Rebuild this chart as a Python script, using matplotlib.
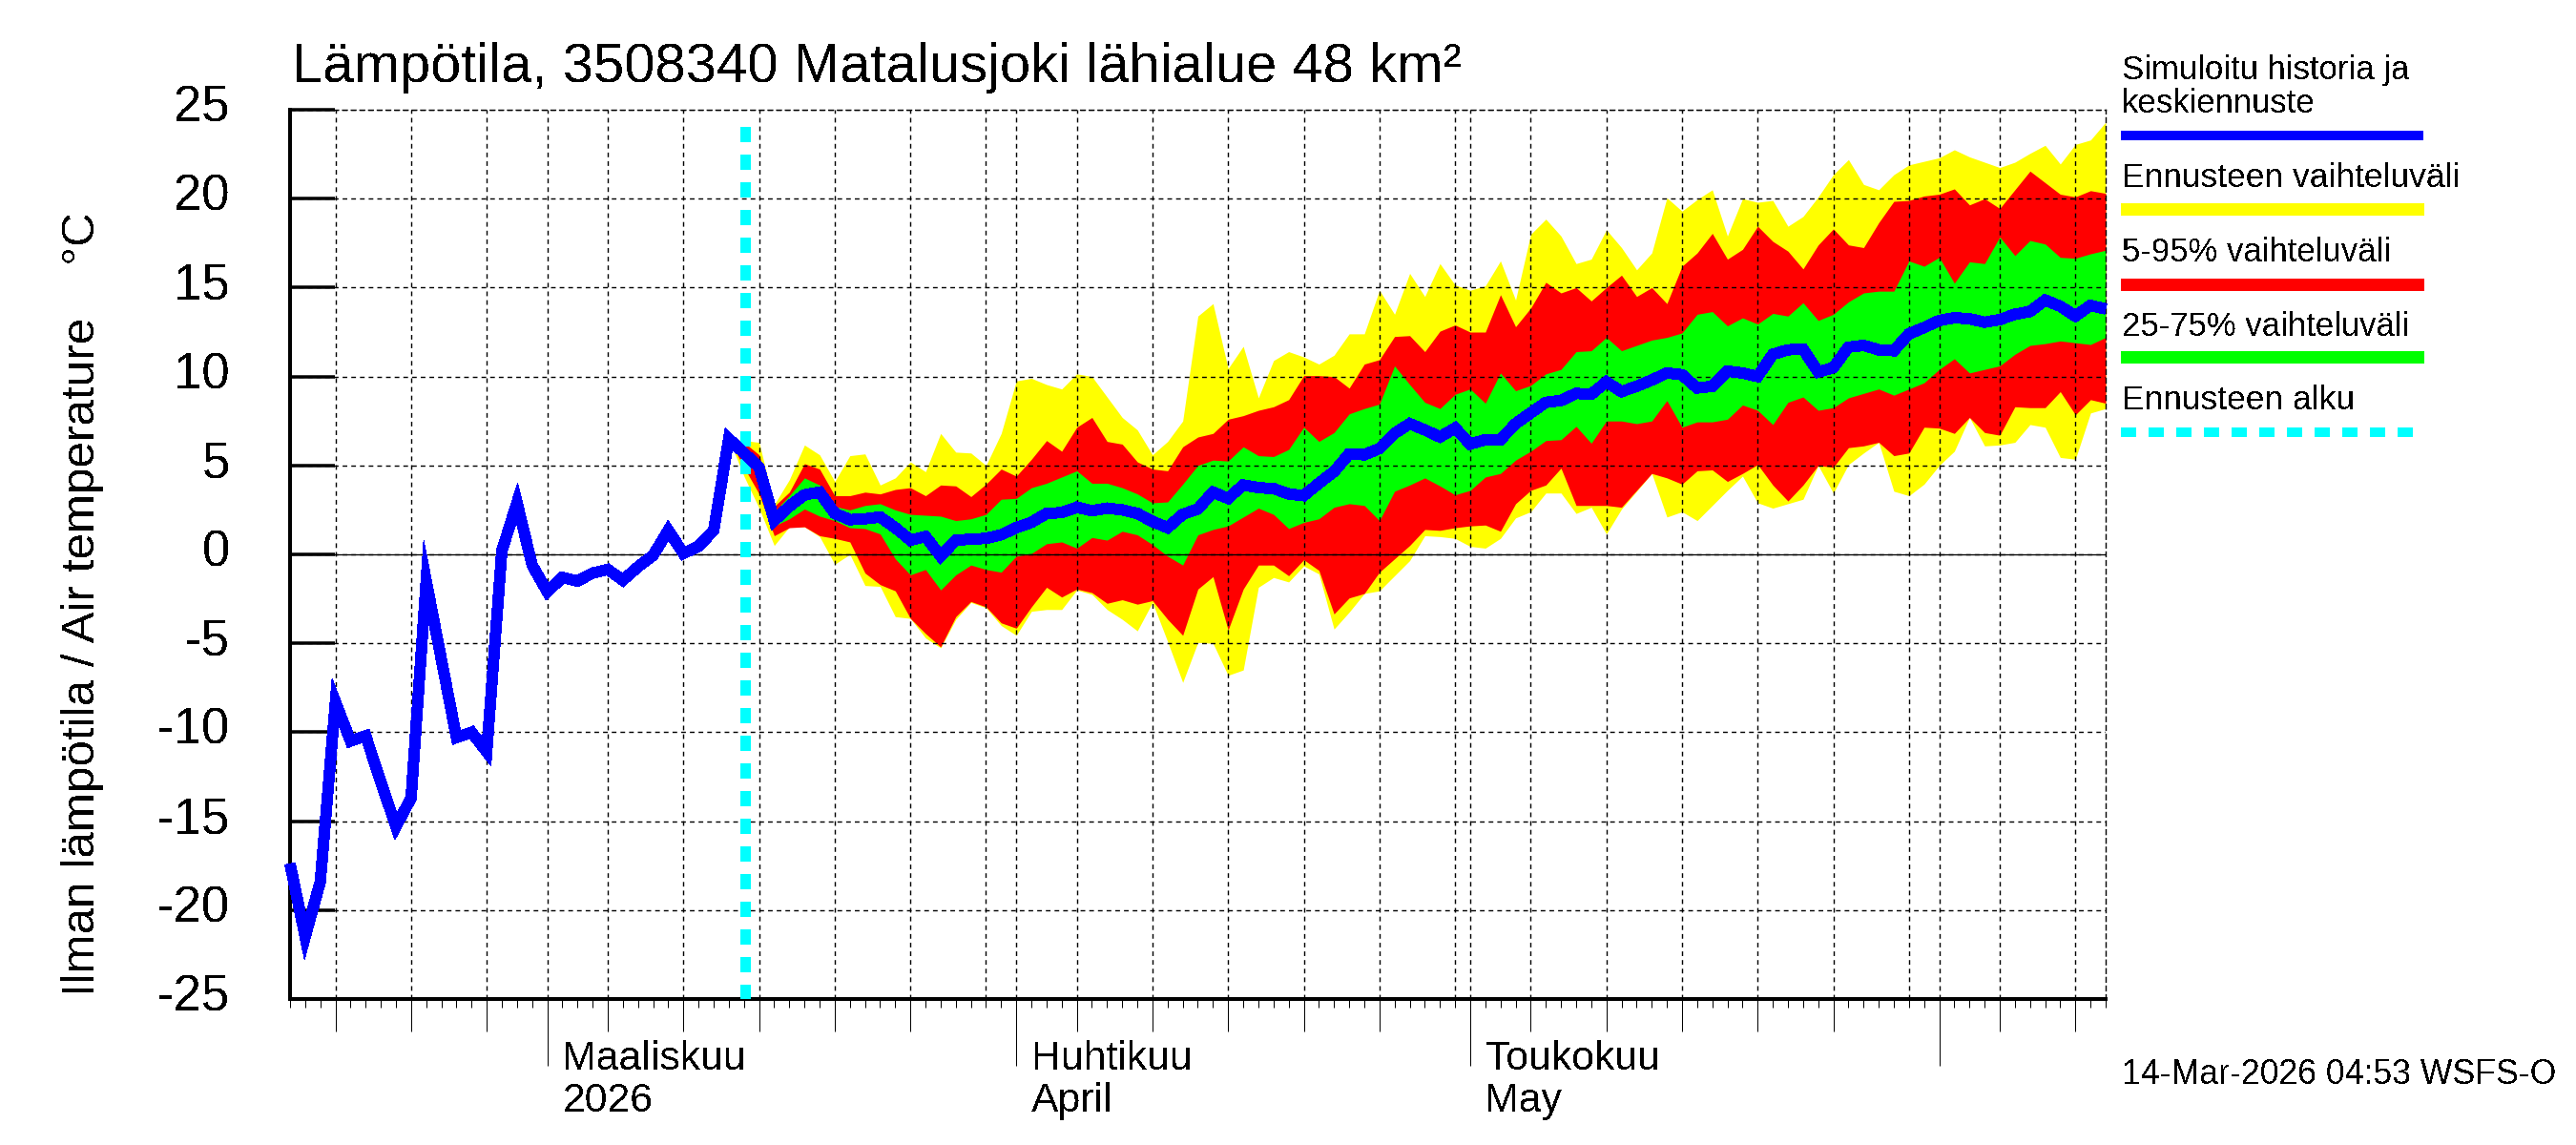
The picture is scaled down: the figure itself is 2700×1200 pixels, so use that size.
import pandas as pd
import matplotlib
matplotlib.use("Agg")
import matplotlib.pyplot as plt
import matplotlib.dates as mdates
from matplotlib.lines import Line2D
from matplotlib.transforms import ScaledTranslation

plt.rcParams["font.family"] = ["Liberation Sans", "DejaVu Sans"]
plt.rcParams["axes.unicode_minus"] = False
plt.rcParams["text.antialiased"] = False

W, H = 2700, 1200

title = "Lämpötila, 3508340 Matalusjoki lähialue 48 km²"
ylabel = "Ilman lämpötila / Air temperature    °C"
stamp = "14-Mar-2026 04:53 WSFS-O"
month_labels = [("2026-03-01", "Maaliskuu", "2026"), ("2026-04-01", "Huhtikuu", "April"), ("2026-05-01", "Toukokuu", "May")]
legend_labels = ["Ennusteen vaihteluväli", "5-95% vaihteluväli", "25-75% vaihteluväli", "Ennusteen alku"]
yticks = [-25, -20, -15, -10, -5, 0, 5, 10, 15, 20, 25]
forecast_start = "2026-03-14"

# daily mean, 12 Feb - 12 Jun
mean = [-17.4, -21.5, -18.4, -8.3, -10.5, -10.2, -12.8, -15.3, -13.7, -1.5,
        -5.9, -10.3, -10, -11.1, 0.2, 2.9, -0.6, -2.1, -1.3, -1.5,
        -1.05, -0.85, -1.45, -0.7, -0.05, 1.35, 0.05, 0.45, 1.35,
        6.5, 5.7, 4.9, 1.9, 2.7, 3.35, 3.5, 2.3, 1.95, 2,
        2.1, 1.5, 0.8, 1, -0.1, 0.8, 0.85, 0.9, 1.1, 1.5,
        1.8, 2.3, 2.35, 2.65, 2.45, 2.6, 2.5, 2.3, 1.85, 1.5,
        2.25, 2.55, 3.5, 3.15, 3.9, 3.75, 3.7, 3.4, 3.3, 4,
        4.65, 5.65, 5.6, 5.95, 6.8, 7.35, 7, 6.6, 7.1, 6.2,
        6.45, 6.45, 7.35, 7.95, 8.55, 8.65, 9.05, 9, 9.7, 9.15,
        9.45, 9.8, 10.2, 10.1, 9.35, 9.45, 10.3, 10.2, 10, 11.25,
        11.5, 11.55, 10.25, 10.5, 11.65, 11.75, 11.5, 11.45, 12.4, 12.75,
        13.15, 13.3, 13.25, 13.05, 13.2, 13.5, 13.65, 14.3, 13.95, 13.4,
        14, 13.8]

# forecast bands start from the last history day
yellow_top = [6.5, 6.4, 6.3, 2.8, 4.2, 6.15, 5.6, 4.1, 5.55, 5.65,
              3.9, 4.3, 5.2, 4.65, 6.8, 5.75, 5.7, 5.0, 6.8, 9.75,
              9.9, 9.55, 9.3, 10.15, 10.0, 8.85, 7.7, 7.0, 5.6, 6.35,
              7.5, 13.4, 14.1, 10.45, 11.7, 8.8, 10.9, 11.4, 11.1, 10.7,
              11.2, 12.4, 12.4, 14.85, 13.5, 15.8, 14.5, 16.35, 15.15, 14.85,
              15.1, 16.5, 14.3, 18, 18.85, 17.9, 16.35, 16.6, 18.25, 17.25,
              16, 16.95, 20.05, 19.3, 19.95, 20.5, 17.9, 20, 19.8, 19.9,
              18.45, 19, 20.1, 21.35, 22.2, 20.8, 20.5, 21.35, 21.9, 22.1,
              22.3, 22.75, 22.35, 22.05, 21.75, 22.05, 22.55, 23, 21.95, 23.05,
              23.3, 24.3]
yellow_bot = [6.5, 4.4, 2.6, 0.5, 1.55, 1.55, 1, -0.55, 0, -1.75,
              -1.8, -3.5, -3.6, -4.7, -5.25, -3.65, -2.7, -3, -4, -4.55,
              -3.2, -3.1, -3.1, -2, -2.25, -3.1, -3.65, -4.3, -2.7, -4.9,
              -7.2, -4.95, -5, -6.8, -6.5, -1.85, -1.3, -1.55, -0.65, -1.1,
              -4.2, -3.25, -2.2, -2.05, -1.2, -0.35, 1.05, 1, 0.9, 0.45,
              0.35, 0.9, 2.05, 2.4, 3.45, 3.45, 2.3, 2.65, 1.15, 2.55,
              3.55, 4.55, 2.1, 2.4, 1.9, 2.75, 3.6, 4.4, 2.9, 2.6,
              2.85, 3.1, 5, 3.45, 5.05, 5.7, 6.3, 3.55, 3.3, 3.95,
              5, 5.8, 7.7, 6.1, 6.15, 6.3, 7.3, 7.15, 5.45, 5.35,
              7.95, 8.2]
red_top = [6.5, 6.3, 5.6, 2.7, 3.5, 5.1, 4.8, 3.3, 3.3, 3.5,
           3.4, 3.65, 3.75, 3.3, 3.9, 3.85, 3.25, 3.95, 4.8, 4.4,
           5.35, 6.4, 5.8, 7.15, 7.7, 6.35, 6.2, 5.2, 4.8, 4.7,
           6.05, 6.6, 6.8, 7.6, 7.8, 8.1, 8.3, 8.7, 10.05, 10.05,
           10, 9.35, 10.7, 10.95, 12.25, 12.3, 11.4, 12.55, 12.9, 12.5,
           12.5, 14.6, 12.8, 13.85, 15.3, 14.7, 15, 14.25, 15, 15.7,
           14.5, 15, 14.1, 16.2, 16.95, 18.05, 16.6, 17.15, 18.45, 17.6,
           17.05, 16.05, 17.4, 18.3, 17.4, 17.25, 18.65, 19.85, 19.9, 20.15,
           20.25, 20.55, 19.65, 20, 19.45, 20.5, 21.55, 20.9, 20.25, 20.1,
           20.45, 20.3]
red_bot = [6.5, 4.9, 3.4, 1.05, 1.5, 1.55, 1.05, 0.9, 0.7, -1.05,
           -1.7, -2.05, -3.6, -4.45, -5.2, -3.5, -2.65, -2.95, -3.85, -4.15,
           -2.95, -1.85, -2.4, -1.95, -2.15, -2.75, -2.55, -2.8, -2.6, -3.65,
           -4.55, -1.95, -1.25, -4.25, -1.95, -0.6, -0.6, -1.2, -0.3, -0.9,
           -3.35, -2.45, -2.2, -1, -0.25, 0.5, 1.4, 1.35, 1.5, 1.6,
           1.65, 1.3, 2.85, 3.6, 3.9, 4.85, 2.75, 2.75, 2.75, 2.65,
           3.6, 4.55, 4.3, 3.95, 4.7, 4.75, 4.1, 4.55, 5.05, 3.9,
           3, 3.9, 5, 4.9, 6, 6.1, 6.3, 5.55, 5.7, 7.15,
           7.1, 6.8, 7.7, 6.85, 6.7, 8.3, 8.25, 8.25, 9.15, 7.85,
           8.7, 8.5]
green_top = [6.5, 6.05, 5.2, 2.4, 3.3, 4.3, 3.9, 2.7, 2.5, 2.75,
             2.85, 2.5, 2.25, 2.2, 2.15, 1.9, 2, 2.25, 3.1, 3.15,
             3.75, 4, 4.35, 4.7, 4, 4, 3.75, 3.4, 2.9, 2.95,
             3.95, 5, 5.3, 5.25, 6.05, 5.55, 5.5, 5.9, 7.15, 6.35,
             6.85, 7.9, 8.2, 8.45, 10.6, 9.55, 8.55, 8.2, 9, 9.3,
             8.5, 10.2, 9.2, 9.5, 10.15, 10.4, 11.4, 11.45, 12.2, 11.45,
             11.75, 12.05, 12.2, 12.45, 13.5, 13.65, 12.85, 13.3, 12.95, 13.55,
             13.4, 14.15, 13.15, 13.5, 14.2, 14.7, 14.8, 14.8, 16.5, 16.2,
             16.7, 15.25, 16.45, 16.35, 17.85, 16.8, 17.65, 17.45, 16.7, 16.65,
             16.9, 17.1]
green_bot = [6.5, 5.3, 4.5, 1.6, 2, 2.55, 2.15, 1.9, 1.5, 1.45,
             1.15, -0.25, -1.15, -0.85, -2, -1.15, -0.6, -0.85, -1, -0.1,
             0.05, 0.6, 0.7, 0.35, 0.95, 0.8, 1.3, 1.1, 0.55, -0.1,
             -0.6, 1.1, 1.4, 1.6, 2.1, 2.6, 2.25, 1.45, 1.8, 2,
             2.65, 2.85, 2.75, 1.9, 3.55, 3.9, 4.3, 3.85, 3.35, 3.6,
             4.35, 4.55, 5.3, 5.8, 6.4, 6.45, 7.2, 6.25, 7.5, 7.5,
             7.35, 7.5, 8.65, 7.15, 7.45, 7.45, 7.6, 8.4, 8.1, 7.3,
             8.55, 8.85, 8.1, 8.25, 8.8, 9.05, 9.3, 8.95, 9.3, 9.65,
             10.4, 11, 10.2, 10.4, 10.6, 11.25, 11.75, 11.85, 12, 11.9,
             11.8, 12.2]

dates = pd.date_range("2026-02-12", periods=len(mean))
fc_dates = dates[len(mean) - len(yellow_top):]


def px(n):
    # pixels to points
    return n * 72 / 100


def fig_text(x, y, s, size):
    fig.text(x / W, 1 - y / H, s, fontsize=size, va="baseline", ha="left")


fig = plt.figure(figsize=(W / 100, H / 100), dpi=100)
ax = fig.add_axes([304 / W, 1 - 1047 / H, 1903 / W, 932 / H])

ax.fill_between(fc_dates, yellow_bot, yellow_top, color="#ffff00", lw=0, antialiased=False, zorder=1)
ax.fill_between(fc_dates, red_bot, red_top, color="#ff0000", lw=0, antialiased=False, zorder=1.1)
ax.fill_between(fc_dates, green_bot, green_top, color="#00ff00", lw=0, antialiased=False, zorder=1.2)

ax.axhline(0, color="black", lw=px(1.3), zorder=1.6)
ax.plot([pd.Timestamp(forecast_start) + pd.Timedelta(hours=2)] * 2, [-25, 24.5], color="#00ffff", lw=px(10.5),
        ls=(0, (1.43, 1.24)), dash_capstyle="butt", antialiased=False, zorder=3)
ax.plot(dates, mean, color="#0000ff", lw=px(11), solid_joinstyle="miter", solid_capstyle="butt",
        antialiased=False, clip_on=False, zorder=4)

ax.set_xlim(dates[0], dates[-1])
ax.set_ylim(-25, 25)

# x ticks: every day short, 5/10/.. medium, month start long, 30th only has grid
major = [d for d in dates if d.day in (1, 5, 10, 15, 20, 25, 30)]
ax.set_xticks(major)
ax.set_xticklabels([])
ax.xaxis.set_minor_locator(mdates.DayLocator())
ax.tick_params(axis="x", which="minor", direction="out", length=px(9), width=px(1))
ax.tick_params(axis="x", which="major", direction="out", width=px(1))
for d, tick in zip(major, ax.xaxis.get_major_ticks()):
    tick.tick1line.set_markersize(px(70) if d.day == 1 else px(9) if d.day == 30 else px(34))

ax.set_yticks(yticks)
ax.set_yticklabels([str(v) for v in yticks], fontsize=38)
ax.tick_params(axis="y", direction="in", length=px(47), width=px(3.5), pad=px(63))
# labels sit a little above their ticks in the original
for label in ax.get_yticklabels():
    label.set_transform(label.get_transform() + ScaledTranslation(0, px(7) / 72, fig.dpi_scale_trans))

ax.grid(True, which="major", color="black", lw=px(1.4), ls=(0, (3.5, 3)))

for side in ("top", "right"):
    ax.spines[side].set_linewidth(px(1.4))
    ax.spines[side].set_linestyle((0, (3.5, 3)))
for side in ("left", "bottom"):
    ax.spines[side].set_linewidth(px(4))

for date, first, second in month_labels:
    xnum = mdates.date2num(pd.Timestamp(date))
    for text, off in ((first, -74), (second, -118)):
        ax.annotate(text, xy=(xnum, 0), xycoords=ax.get_xaxis_transform(), xytext=(px(16), px(off)),
                    textcoords="offset points", fontsize=30.8, ha="left", va="baseline")

fig_text(306, 86, title, 41.8)
fig.text(87 / W, 1 - 633 / H, ylabel, fontsize=35.6, rotation=90, ha="center", va="center")
fig_text(2224, 1136, stamp, 25.7)

# legend drawn by hand at the right side
fig_text(2224, 83, "Simuloitu historia ja", 25)
fig_text(2224, 118, "keskiennuste", 25)
fig_text(2224, 196, legend_labels[0], 25.5)
fig_text(2224, 274, legend_labels[1], 25)
fig_text(2224, 352, legend_labels[2], 25)
fig_text(2224, 429, legend_labels[3], 25.5)

swatches = [(142, "#0000ff", 10, "-"), (219.5, "#ffff00", 12.7, "-"), (297.5, "#ff0000", 12.7, "-"),
            (374.5, "#00ff00", 12.7, "-"), (453, "#00ffff", 10, (0, (1.5, 1.31)))]
for y, color, lw, ls in swatches:
    fig.add_artist(Line2D([2223 / W, 2540 / W], [1 - y / H] * 2, color=color, lw=px(lw), ls=ls,
                          solid_capstyle="butt", dash_capstyle="butt", antialiased=False))

fig.savefig("out.png", dpi=100, facecolor="white")
